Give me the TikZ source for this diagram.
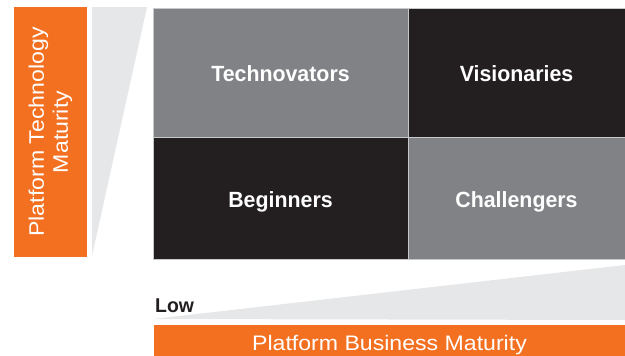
\documentclass[tikz,border=0pt]{standalone}
\usepackage{fontspec}
\setmainfont{Liberation Sans}
\newfontfamily\barfont[FakeStretch=1.1]{Liberation Sans}
\newfontfamily\cellfont[FakeStretch=0.97]{Liberation Sans Bold}
\definecolor{matOrange}{HTML}{F37021}
\definecolor{matGrey}{HTML}{808285}
\definecolor{matDark}{HTML}{231F20}
\definecolor{matWedge}{HTML}{E6E7E8}
\definecolor{matLine}{HTML}{C7C8CA}

\begin{document}
\begin{tikzpicture}[x=1pt,y=-1pt,
  cell/.style={draw=matLine,line width=1pt,inner sep=0pt,text=white,
    text height=18.8pt,text depth=0pt,
    font=\cellfont\fontsize{22}{26}\selectfont},
  bar/.style={fill=matOrange,inner sep=0pt,text=white,align=center,
    font=\barfont\fontsize{21}{24}\selectfont}]
\useasboundingbox (0,0) rectangle (625,356);
%
\fill[matWedge] (92,7) -- (147,7) -- (92,256) -- cycle;
\fill[matWedge] (153,319) -- (625,265) -- (625,320) -- cycle;
%
\draw (280.5,72.5) node[cell,fill=matGrey,minimum width=255pt,minimum height=129pt]
  (technovators) {Technovators};
\draw (technovators) ++ (236,0) node[cell,fill=matDark,minimum width=217pt,minimum height=129pt]
  (visionaries) {Visionaries};
\draw (technovators) ++ (0,125.5) node[cell,fill=matDark,minimum width=255pt,minimum height=122pt]
  (beginners) {Beginners};
\draw (beginners) ++ (236,0) node[cell,fill=matGrey,minimum width=217pt,minimum height=122pt]
  (challengers) {Challengers};
%
\draw (50.5,132) node[bar,rotate=90,minimum width=250pt,minimum height=73pt]
  (techMaturity) {Platform Technology\\Maturity};
\draw (389.5,340.5) node[bar,text height=19pt,text depth=0pt,
  minimum width=471pt,minimum height=31pt]
  (businessMaturity) {Platform Business Maturity};
\draw (155,312) node[anchor=base west,inner sep=0pt,text=matDark,
  font=\cellfont\fontsize{20}{24}\selectfont] (low) {Low};
\end{tikzpicture}
\end{document}
